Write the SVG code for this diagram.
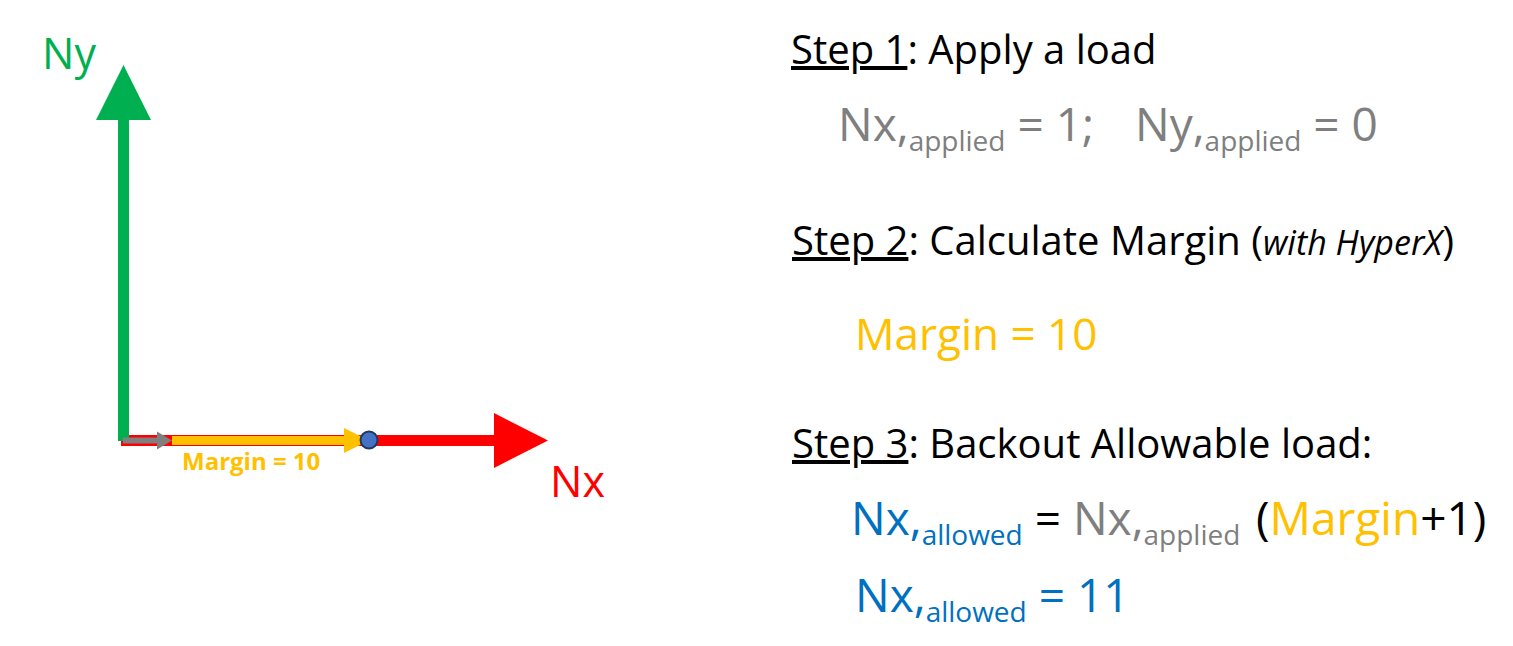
<svg xmlns="http://www.w3.org/2000/svg" width="1513" height="646" viewBox="0 0 1513 646">
<style>
  text { font-family: "Open Sans", "Noto Sans", "Liberation Sans", sans-serif; }
  .step { font-size: 40px; fill: #000000; }
  .ul { text-decoration: underline; }
  .gray { fill: #7F7F7F; }
  .blue { fill: #0070C0; }
  .orange { fill: #FFC000; }
  .black { fill: #000000; }
  .main { font-size: 46px; }
  .sub { font-size: 28px; }
  .it { font-style: italic; font-size: 34px; }
</style>
<rect x="0" y="0" width="1513" height="646" fill="#FFFFFF"/>

<g id="connectors">
  <g id="x-axis-arrow">
    <rect x="121" y="435" width="373" height="11" fill="#FF0000"/>
    <polygon points="494,413 548,440.5 494,468" fill="#FF0000"/>
  </g>
  <g id="y-axis-arrow">
    <rect x="118" y="120" width="11" height="321" fill="#00B050"/>
    <polygon points="96,120 151,120 123.5,65" fill="#00B050"/>
  </g>
  <g id="applied-arrow">
    <rect x="123" y="437.5" width="35" height="6" fill="#7F7F7F"/>
    <polygon points="157,431.5 172,440.5 157,449.5" fill="#7F7F7F"/>
  </g>
  <g id="margin-arrow">
    <rect x="172" y="436" width="173" height="9" fill="#FFC000"/>
    <polygon points="344,428 369,440.5 344,453" fill="#FFC000"/>
  </g>
</g>

<g id="allowable-point">
  <circle cx="369" cy="440" r="8.5" fill="#4472C4" stroke="#203864" stroke-width="2"/>
</g>

<g id="label-ny">
  <text x="42" y="69" font-size="43" fill="#00B050">Ny</text>
</g>
<g id="label-nx">
  <text x="550" y="497" font-size="43" fill="#FF0000">Nx</text>
</g>
<g id="label-margin-arrow">
  <text x="182" y="470" font-size="24" font-weight="bold" fill="#FFC000">Margin = 10</text>
</g>

<g id="step1">
  <text class="step" x="791" y="64"><tspan class="ul">Step 1</tspan>: Apply a load</text>
  <text class="main gray" x="838" y="141">Nx,<tspan class="sub" dy="10">applied</tspan><tspan dy="-10"> = 1;</tspan><tspan x="1135">Ny,</tspan><tspan class="sub" dy="10">applied</tspan><tspan dy="-10"> = 0</tspan></text>
</g>

<g id="step2">
  <text class="step" x="792" y="255"><tspan class="ul">Step 2</tspan>: Calculate Margin (<tspan class="it">with HyperX</tspan>)</text>
  <text class="main orange" x="855" y="350" style="font-size:44px">Margin = 10</text>
</g>

<g id="step3">
  <text class="step" x="792" y="458"><tspan class="ul">Step 3</tspan>: Backout Allowable load:</text>
  <text class="main" x="851" y="535"><tspan class="blue">Nx,</tspan><tspan class="sub blue" dy="10">allowed</tspan><tspan class="black" dy="-10"> = </tspan><tspan class="gray">Nx,</tspan><tspan class="sub gray" dy="10">applied</tspan><tspan class="black" x="1256" dy="-10">(</tspan><tspan class="orange">Margin</tspan><tspan class="black">+1)</tspan></text>
  <text class="main blue" x="855" y="612">Nx,<tspan class="sub" dy="10">allowed</tspan><tspan dy="-10"> = 11</tspan></text>
</g>
</svg>
